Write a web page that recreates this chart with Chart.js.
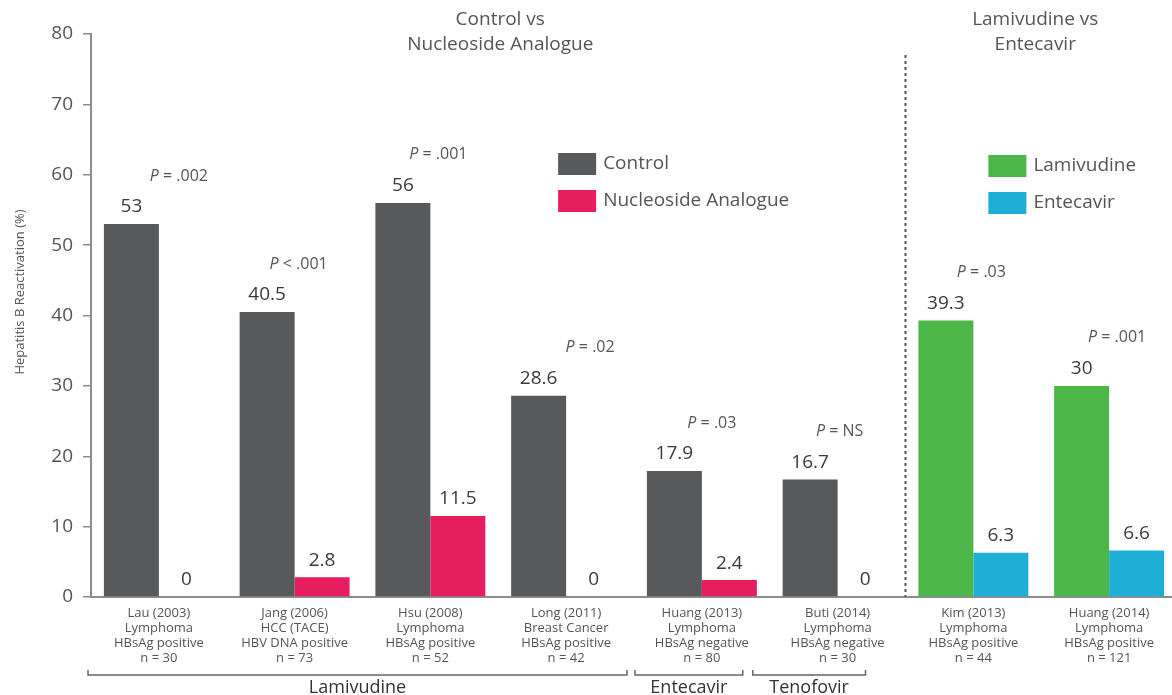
<!DOCTYPE html>
<html>
<head>
<meta charset="utf-8">
<script src="https://cdn.jsdelivr.net/npm/chart.js@4.4.1/dist/chart.umd.min.js"></script>
<style>
html,body{margin:0;padding:0;overflow:hidden;background:#ffffff;}
#wrap{position:absolute;left:0;top:0;width:1178px;height:695px;}
</style>
</head>
<body>
<div id="wrap"><canvas id="c"></canvas></div>
<script>
// ---- data ----
const categories = [
  ['Lau (2003)', 'Lymphoma', 'HBsAg positive', 'n = 30'],
  ['Jang (2006)', 'HCC (TACE)', 'HBV DNA positive', 'n = 73'],
  ['Hsu (2008)', 'Lymphoma', 'HBsAg positive', 'n = 52'],
  ['Long (2011)', 'Breast Cancer', 'HBsAg positive', 'n = 42'],
  ['Huang (2013)', 'Lymphoma', 'HBsAg negative', 'n = 80'],
  ['Buti (2014)', 'Lymphoma', 'HBsAg negative', 'n = 30'],
  ['Kim (2013)', 'Lymphoma', 'HBsAg positive', 'n = 44'],
  ['Huang (2014)', 'Lymphoma', 'HBsAg positive', 'n = 121']
];
const controlValues    = [53, 40.5, 56, 28.6, 17.9, 16.7, null, null];
const nucleosideValues = [0, 2.8, 11.5, 0, 2.4, 0, null, null];
const lamivudineValues = [null, null, null, null, null, null, 39.3, 30];
const entecavirValues  = [null, null, null, null, null, null, 6.3, 6.6];
const pValueText = ['= .002', '< .001', '= .001', '= .02', '= .03', '= NS', '= .03', '= .001'];
const yMin = 0, yMax = 80, yStep = 10;
const yAxisTitle = 'Hepatitis B Reactivation (%)';
const drugGroups = [
  { label: 'Lamivudine', first: 0, last: 3 },
  { label: 'Entecavir', first: 4, last: 4 },
  { label: 'Tenofovir', first: 5, last: 5 }
];
const panelTitles = [
  { lines: ['Control vs', 'Nucleoside Analogue'], first: 0, last: 5 },
  { lines: ['Lamivudine vs', 'Entecavir'], first: 6, last: 7 }
];
const legendGroups = [
  { names: ['Control', 'Nucleoside Analogue'], datasets: [0, 1] },
  { names: ['Lamivudine', 'Entecavir'], datasets: [2, 3] }
];

// ---- styles ----
const COLORS = ['#58595b', '#e61d5f', '#4cb648', '#1eafd6'];
const AXIS = '#8c8c8c';
const FONT = "'Open Sans', 'DejaVu Sans', sans-serif";
const bracketInsets = [[-3, 7], [1, 27], [-17, 40]];
const pOffsets = [20, 4, 8, 24, 10, 2, 8, 8];

const overlay = {
  id: 'overlay',
  afterDraw(chart) {
    const ctx = chart.ctx;
    const xs = chart.scales.x;
    const area = chart.chartArea;
    ctx.save();

    // value labels above bars
    ctx.fillStyle = '#3a3a3a';
    ctx.font = '19px ' + FONT;
    ctx.textAlign = 'center';
    ctx.textBaseline = 'middle';
    chart.data.datasets.forEach((ds, di) => {
      const meta = chart.getDatasetMeta(di);
      meta.data.forEach((bar, i) => {
        const v = ds.data[i];
        if (v === null || v === undefined) return;
        ctx.fillText(String(v), bar.x, bar.y - 17);
      });
    });

    // P value labels
    categories.forEach((c, i) => {
      let top = Infinity;
      chart.data.datasets.forEach((ds, di) => {
        const v = ds.data[i];
        if (v === null || v === undefined) return;
        const bar = chart.getDatasetMeta(di).data[i];
        top = Math.min(top, bar.y);
      });
      const cx = xs.getPixelForValue(i) + pOffsets[i];
      const cy = top - 48;
      const italic = 'italic 16px ' + FONT;
      const normal = '16px ' + FONT;
      ctx.font = italic;
      const wP = ctx.measureText('P').width;
      ctx.font = normal;
      const rest = ' ' + pValueText[i];
      const wR = ctx.measureText(rest).width;
      const x0 = cx - (wP + wR) / 2;
      ctx.fillStyle = '#555555';
      ctx.textAlign = 'left';
      ctx.font = italic;
      ctx.fillText('P', x0, cy);
      ctx.font = normal;
      ctx.fillText(rest, x0 + wP, cy);
    });

    // panel titles
    ctx.fillStyle = '#555555';
    ctx.font = '19px ' + FONT;
    ctx.textAlign = 'center';
    panelTitles.forEach(p => {
      const l = xs.getPixelForValue(p.first - 0.5);
      const r = p.last === categories.length - 1 ? area.right : xs.getPixelForValue(p.last + 0.5);
      const cx = (l + r) / 2 + (p.first === 0 ? 2 : -6);
      p.lines.forEach((t, k) => ctx.fillText(t, cx, 20 + k * 25));
    });

    // dashed separator
    const sepX = xs.getPixelForValue(5.5);
    ctx.strokeStyle = '#555555';
    ctx.lineWidth = 2;
    ctx.setLineDash([3, 3]);
    ctx.beginPath();
    ctx.moveTo(sepX, 55);
    ctx.lineTo(sepX, area.bottom);
    ctx.stroke();
    ctx.setLineDash([]);

    // legends
    const legendPos = [
      { x: xs.getPixelForValue(3) - 8, y: 153 },
      { x: xs.getPixelForValue(6) + 15, y: 155 }
    ];
    ctx.font = '19px ' + FONT;
    ctx.textAlign = 'left';
    legendGroups.forEach((g, gi) => {
      const pos = legendPos[gi];
      g.names.forEach((n, k) => {
        const by = pos.y + k * 37;
        ctx.fillStyle = COLORS[g.datasets[k]];
        ctx.fillRect(pos.x, by, 38, 22);
        ctx.fillStyle = '#555555';
        ctx.fillText(n, pos.x + 45, by + 11);
      });
    });

    // y axis title
    ctx.save();
    ctx.translate(20, 292);
    ctx.rotate(-Math.PI / 2);
    ctx.font = '13px ' + FONT;
    ctx.fillStyle = '#555555';
    ctx.textAlign = 'center';
    ctx.textBaseline = 'middle';
    ctx.fillText(yAxisTitle, 0, 0);
    ctx.restore();

    // drug group brackets
    const by = 675;
    ctx.strokeStyle = '#666666';
    ctx.lineWidth = 1.5;
    ctx.font = '18px ' + FONT;
    ctx.fillStyle = '#333333';
    ctx.textAlign = 'center';
    ctx.textBaseline = 'middle';
    drugGroups.forEach((g, gi) => {
      const l = xs.getPixelForValue(g.first - 0.5) + bracketInsets[gi][0];
      const r = xs.getPixelForValue(g.last + 0.5) - bracketInsets[gi][1];
      ctx.beginPath();
      ctx.moveTo(l, by - 5);
      ctx.lineTo(l, by);
      ctx.lineTo(r, by);
      ctx.lineTo(r, by - 5);
      ctx.stroke();
      ctx.fillText(g.label, (l + r) / 2, 688);
    });

    ctx.restore();
  }
};

const ds = (label, data, color) => ({
  label, data, backgroundColor: color, borderWidth: 0, skipNull: true,
  barPercentage: 1.0, categoryPercentage: 0.81
});

new Chart(document.getElementById('c'), {
  type: 'bar',
  data: {
    labels: categories,
    datasets: [
      ds('Control', controlValues, COLORS[0]),
      ds('Nucleoside Analogue', nucleosideValues, COLORS[1]),
      ds('Lamivudine', lamivudineValues, COLORS[2]),
      ds('Entecavir', entecavirValues, COLORS[3])
    ]
  },
  options: {
    responsive: true,
    maintainAspectRatio: false,
    animation: false,
    devicePixelRatio: 1,
    layout: { padding: { top: 34, left: 0, right: 1, bottom: 0 } },
    plugins: { legend: { display: false }, tooltip: { enabled: false }, title: { display: false } },
    scales: {
      x: {
        type: 'category',
        offset: true,
        grid: { display: false, drawTicks: false },
        border: { display: true, color: AXIS, width: 2 },
        ticks: {
          autoSkip: false, maxRotation: 0, minRotation: 0, padding: 9,
          color: '#555555', font: { family: FONT, size: 13, lineHeight: 1.15 }
        },
        afterFit(scale) { scale.height = 98; }
      },
      y: {
        min: yMin, max: yMax,
        grid: { display: true, drawOnChartArea: false, drawTicks: true, tickLength: 8, color: AXIS, lineWidth: 1.5 },
        border: { display: true, color: AXIS, width: 2 },
        ticks: { stepSize: yStep, padding: 10, color: '#555555', font: { family: FONT, size: 19 } },
        afterFit(scale) { scale.width = 91; }
      }
    }
  },
  plugins: [overlay]
});
</script>
</body>
</html>
